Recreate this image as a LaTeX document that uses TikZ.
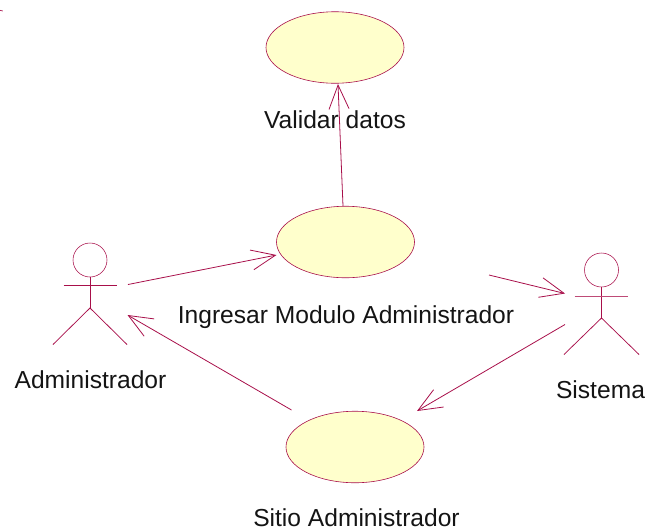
\documentclass[tikz,border=0pt]{standalone}
\usepackage{fontspec}
\setmainfont{Liberation Sans}
\usetikzlibrary{arrows.meta,shapes.geometric}
\definecolor{rose}{HTML}{A80F4A}
\definecolor{ucfill}{HTML}{FFFFCC}
\tikzset{
  every node/.style={inner sep=0pt,outer sep=0pt},
  usecase/.style={ellipse,draw=rose,fill=ucfill,line width=0.6pt,minimum width=138pt,minimum height=71.5pt},
  actorhead/.style={circle,draw=rose,line width=0.55pt,minimum size=34pt},
  actorline/.style={draw=rose,line width=0.75pt},
  assoc/.style={draw=rose,line width=0.8pt,-{Straight Barb[length=24pt,width=20pt,line width=0.8pt]}},
  lbl/.style={anchor=base,font=\fontsize{24.6}{27}\selectfont,text=black!92}
}
\begin{document}
\begin{tikzpicture}[x=1pt,y=-1pt]
\useasboundingbox (0,0) rectangle (651,531);
% use cases
\node[usecase] (val) at (335,47.5) {};
\node[usecase] (ing) at (345.5,242) {};
\node[usecase] (sit) at (355,447) {};
% actors
\node[actorhead] (adm) at (90,260) {};
\coordinate (admHip) at (90,308);
\draw[actorline] (adm.south) -- (admHip);
\draw[actorline] (63.5,285.7) -- (117,285.7);
\draw[actorline] (53,344.5) -- (admHip) -- (127,344.5);
\node[actorhead] (sis) at (601.5,270) {};
\coordinate (sisHip) at (601.5,318);
\draw[actorline] (sis.south) -- (sisHip);
\draw[actorline,line width=1pt,draw=rose!75] (574.5,296) -- (628,296);
\draw[actorline] (564,354.5) -- (sisHip) -- (639,354.5);
% labels
\node[lbl] (lval) at (335,128) {Validar datos};
\node[lbl] (ling) at (346,323) {Ingresar Modulo Administrador};
\node[lbl] (ladm) at (90.5,388) {Administrador};
\node[lbl] (lsis) at (600.5,398) {Sistema};
\node[lbl] (lsit) at (356.5,526) {Sitio Administrador};
% connector ends
\coordinate (a1) at (128,284.5);
\coordinate (a2) at (127.5,315);
\coordinate (s1) at (565,293.5);
\coordinate (s2) at (565,324.5);
\coordinate (i1) at (489,275);
\coordinate (i2) at (343,206);
\coordinate (i3) at (276.5,255);
\coordinate (v1) at (338,84);
\coordinate (t1) at (417,411);
\coordinate (t2) at (291.5,410);
% connectors
\draw[assoc] (i2) -- (v1);
\draw[assoc] (a1) -- (i3);
\draw[assoc] (i1) -- (s1);
\draw[assoc] (s2) -- (t1);
\draw[assoc] (t2) -- (a2);
% stray mark
\coordinate (m1) at (0,10.3);
\coordinate (m2) at (2.8,11);
\draw[rose,line width=0.7pt] (m1) -- (m2);
\end{tikzpicture}
\end{document}
